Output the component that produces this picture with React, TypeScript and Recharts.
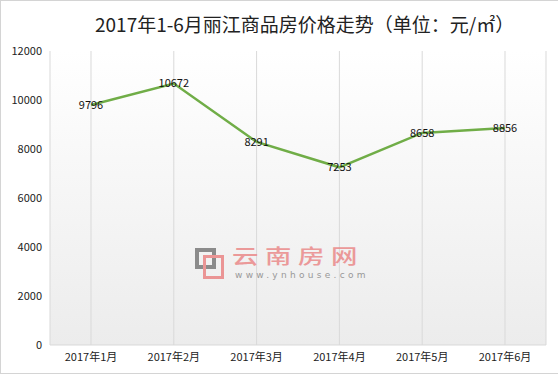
import { LineChart, Line, XAxis, YAxis, CartesianGrid, LabelList } from "recharts";

const months = ["2017年1月", "2017年2月", "2017年3月", "2017年4月", "2017年5月", "2017年6月"];
const prices = [9796, 10672, 8291, 7253, 8658, 8856];
const yTicks = [0, 2000, 4000, 6000, 8000, 10000, 12000];
const title = "2017年1-6月丽江商品房价格走势（单位：元/㎡）";

const data = months.map((m, i) => ({ month: m, price: prices[i] }));

const font = '"Noto Sans CJK SC", "Microsoft YaHei", sans-serif';

function Watermark() {
  return (
    <div style={{ position: "absolute", left: 0, top: 0, pointerEvents: "none", opacity: 0.85 }}>
      <div style={{ position: "absolute", left: 195, top: 248, width: 13, height: 13, border: "4px solid #7a7a7a" }} />
      <div style={{ position: "absolute", left: 203, top: 255, width: 15, height: 18, border: "3px solid #ea8585" }} />
      <div
        style={{
          position: "absolute", left: 232, top: 246, fontSize: 20, lineHeight: "20px", letterSpacing: 5,
          color: "#ea8a8a", fontFamily: font, fontWeight: 500, whiteSpace: "nowrap",
          transform: "scaleX(1.32)", transformOrigin: "left top",
        }}
      >
        云南房网
      </div>
      <div style={{ position: "absolute", left: 235, top: 270, fontSize: 9, lineHeight: "10px", letterSpacing: 3.3, color: "#8a8a8a", fontFamily: "Verdana, DejaVu Sans, sans-serif", whiteSpace: "nowrap" }}>
        www.ynhouse.com
      </div>
    </div>
  );
}

export default function App() {
  return (
    <div style={{ position: "absolute", left: 0, top: 0, width: 559, height: 381, background: "#fff", fontFamily: font }}>
      <svg width={0} height={0} style={{ position: "absolute" }}>
        <defs>
          <linearGradient id="plotBg" x1="0" y1="0" x2="0" y2="1">
            <stop offset="0%" stopColor="#ffffff" />
            <stop offset="100%" stopColor="#ececec" />
          </linearGradient>
        </defs>
      </svg>
      <div style={{ position: "absolute", left: 0, top: 0, width: 558, height: 374, borderTop: "1px solid #d4d4d4", borderLeft: "1px solid #d4d4d4", borderBottom: "1px solid #d4d4d4", boxSizing: "border-box" }} />
      <div style={{ position: "absolute", left: 95, top: 11, fontSize: 19, lineHeight: "26px", color: "#222", whiteSpace: "nowrap" }}>
        {title}
      </div>
      <div style={{ position: "absolute", left: 0, top: 0 }}>
        <LineChart width={559} height={381} data={data} margin={{ top: 51, right: 13, left: 0, bottom: 6 }}>
          <CartesianGrid horizontal={false} stroke="#d9d9d9" fill="url(#plotBg)" fillOpacity={1} />
          <XAxis
            dataKey="month"
            height={30}
            padding={{ left: 41, right: 41 }}
            tick={{ fontSize: 11, fill: "#222", fontFamily: font }}
            tickLine={false}
            axisLine={{ stroke: "#d9d9d9" }}
            interval={0}
          />
          <YAxis
            width={50}
            domain={[0, 12000]}
            ticks={yTicks}
            tick={{ fontSize: 11, fill: "#222", fontFamily: font }}
            tickLine={false}
            axisLine={false}
          />
          <Line
            type="linear"
            dataKey="price"
            stroke="#70ad47"
            strokeWidth={2.5}
            dot={false}
            isAnimationActive={false}
          >
            <LabelList dataKey="price" position="center" fontSize={11} fill="#111" fontFamily={font} />
          </Line>
        </LineChart>
      </div>
      <Watermark />
    </div>
  );
}
